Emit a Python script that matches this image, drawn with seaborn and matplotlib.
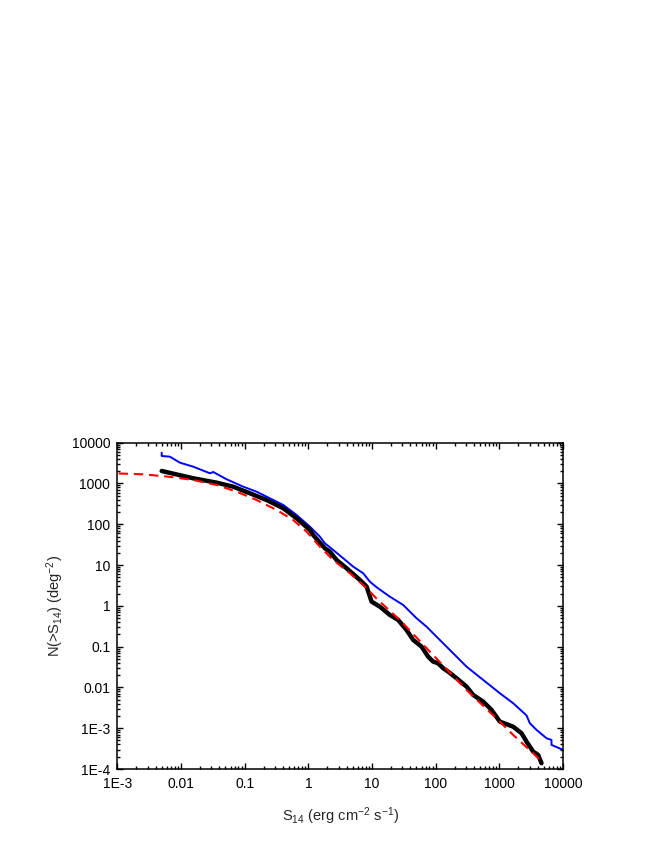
import numpy as np
import pandas as pd
import matplotlib
matplotlib.use("Agg")
import matplotlib.pyplot as plt
from matplotlib.ticker import LogLocator, NullFormatter, FixedLocator, FixedFormatter
import seaborn as sns

# ---------------- data ----------------
black_s = [0.00498, 0.0156, 0.0363, 0.0662, 0.121, 0.221, 0.404, 0.655, 1.06,
           1.19, 1.82, 2.18, 2.78, 3.99, 6.46, 8.23, 9.86, 13.3, 19.1, 25.8,
           34.9, 44.4, 60.1, 76.2, 91.4, 109, 131, 157, 213, 305, 388, 557,
           755, 1019, 1648, 2233, 2673, 3396, 4064, 4592]
black_n = [2025, 1341, 1047, 835, 575, 394, 247, 140, 72.5,
           54.7, 25.8, 21.3, 13.3, 8.35, 4.31, 2.96, 1.27, 0.955, 0.598, 0.451,
           0.256, 0.146, 0.1, 0.0569, 0.0429, 0.0392, 0.0296, 0.0244, 0.0168,
           0.0105, 0.00655, 0.00449, 0.00281, 0.00145, 0.00109, 7.53e-4,
           4.70e-4, 2.67e-4, 2.22e-4, 1.39e-4]

blue_s = [0.00498, 0.00498, 0.00671, 0.00964, 0.0156, 0.0285, 0.0321, 0.0521,
          0.0951, 0.154, 0.249, 0.404, 0.655, 1.06, 1.52, 1.82, 2.46, 3.53,
          5.07, 7.28, 9.27, 11.8, 19.1, 30.9, 50.1, 71.9, 103, 167, 305, 557,
          1019, 1648, 2673, 3013, 3837, 5508, 6592, 6592, 10040]
blue_n = [5690, 4720, 4540, 3236, 2582, 1778, 1914, 1267,
          835, 630, 434, 297, 169, 87.3, 49.7, 34.2, 23.4, 14.7,
          9.14, 6.29, 3.92, 2.86, 1.68, 1.05, 0.497, 0.309, 0.176, 0.083,
          0.0324, 0.0153, 0.00721, 0.0041, 0.00206, 0.00133, 9.08e-4,
          5.69e-4, 5.16e-4, 3.90e-4, 2.94e-4]

red_s = [0.00105, 0.00256, 0.00632, 0.0156, 0.0363, 0.0748, 0.154, 0.318,
         0.579, 0.94, 1.52, 2.46, 4.50, 8.23, 11.8, 27.4, 91.4, 305, 1019,
         1648, 3396, 4875]
red_n = [1760, 1679, 1468, 1218, 919, 630, 394, 224,
         127, 65.9, 28.2, 13.3, 6.29, 2.75, 1.5, 0.451, 0.062, 0.00869,
         0.00145, 6.85e-4, 2.44e-4, 1.39e-4]

xticks = [1e-3, 1e-2, 1e-1, 1, 10, 100, 1000, 10000]
xtick_labels = ["1E-3", "0.01", "0.1", "1", "10", "100", "1000", "10000"]
yticks = [1e-4, 1e-3, 1e-2, 1e-1, 1, 10, 100, 1000, 10000]
ytick_labels = ["1E-4", "1E-3", "0.01", "0.1", "1", "10", "100", "1000", "10000"]

# ---------------- style ----------------
sns.set_theme(style="ticks")
plt.rcParams["font.family"] = ["Liberation Sans", "DejaVu Sans"]
plt.rcParams["mathtext.fontset"] = "custom"
plt.rcParams["mathtext.rm"] = "Liberation Sans"
plt.rcParams["mathtext.it"] = "Liberation Sans:italic"
plt.rcParams["mathtext.bf"] = "Liberation Sans:bold"

fig = plt.figure(figsize=(6.54, 8.46), dpi=100)
ax = fig.add_axes([117.3 / 654, 1 - 769.0 / 846, (563.0 - 117.3) / 654, (769.0 - 442.7) / 846])

df_black = pd.DataFrame({"S": black_s, "N": black_n})
df_blue = pd.DataFrame({"S": blue_s, "N": blue_n})
df_red = pd.DataFrame({"S": red_s, "N": red_n})

sns.lineplot(data=df_blue, x="S", y="N", ax=ax, color="#0000ff", lw=1.4,
             sort=False, estimator=None)
sns.lineplot(data=df_black, x="S", y="N", ax=ax, color="black", lw=3.2,
             sort=False, estimator=None)
sns.lineplot(data=df_red, x="S", y="N", ax=ax, color="#ff0000", lw=1.5,
             sort=False, estimator=None, dashes=False)
ax.lines[-1].set_dashes((4.5, 2.8))

ax.set_xscale("log")
ax.set_yscale("log")
ax.set_xlim(1e-3, 1e4)
ax.set_ylim(1e-4, 1e4)

ax.xaxis.set_major_locator(FixedLocator(xticks))
ax.xaxis.set_major_formatter(FixedFormatter(xtick_labels))
ax.yaxis.set_major_locator(FixedLocator(yticks))
ax.yaxis.set_major_formatter(FixedFormatter(ytick_labels))
ax.xaxis.set_minor_locator(LogLocator(base=10, subs=np.arange(2, 10), numticks=30))
ax.yaxis.set_minor_locator(LogLocator(base=10, subs=np.arange(2, 10), numticks=30))
ax.xaxis.set_minor_formatter(NullFormatter())
ax.yaxis.set_minor_formatter(NullFormatter())

ax.tick_params(which="both", direction="in", top=True, right=True,
               colors="black", width=1.0, labelsize=10)
ax.tick_params(which="major", length=4.5)
ax.tick_params(which="minor", length=2.5)
ax.tick_params(axis="x", which="major", pad=6)
ax.tick_params(axis="y", which="major", pad=5)
for sp in ax.spines.values():
    sp.set_visible(True)
    sp.set_linewidth(1.1)
    sp.set_color("black")

ax.set_xlabel(r"S$_{\mathregular{14}}$ (erg cm$^{\mathregular{-2}}$ s$^{\mathregular{-1}}$)",
              fontsize=10.5, labelpad=10)
ax.set_ylabel(r"N(>S$_{\mathregular{14}}$) (deg$^{\mathregular{-2}}$)",
              fontsize=10.5, labelpad=4)
ax.grid(False)

fig.savefig("out.png", dpi=100)
